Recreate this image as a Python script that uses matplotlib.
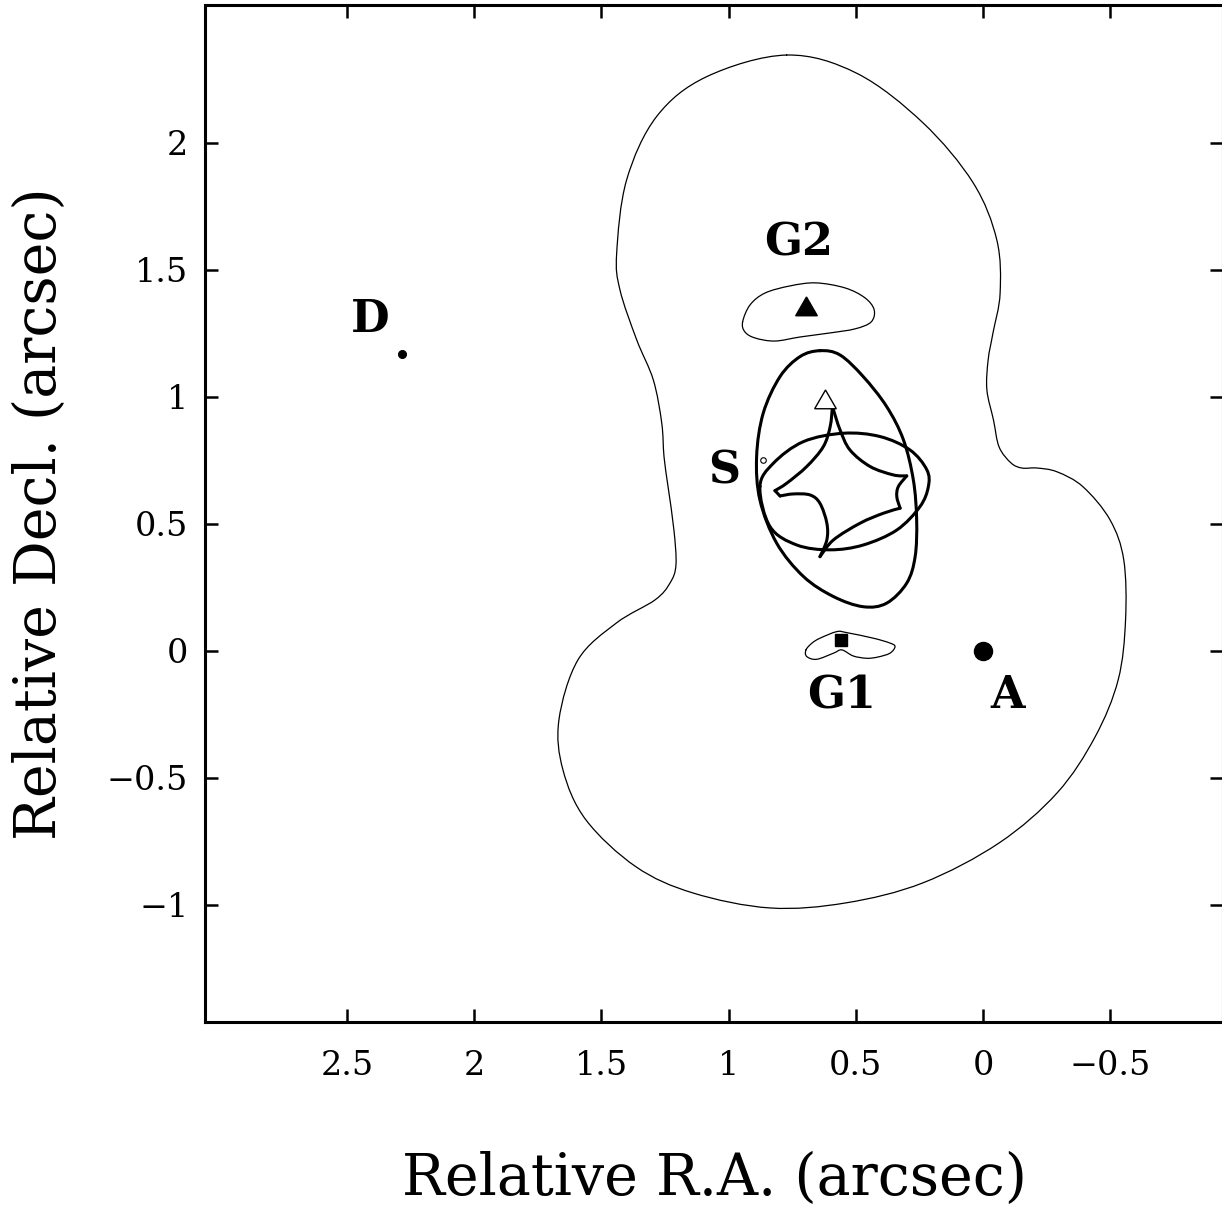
import numpy as np
import matplotlib
matplotlib.use("Agg")
import matplotlib.pyplot as plt
from matplotlib.path import Path
from matplotlib.patches import PathPatch

# outer critical line (thin)
outer_x = [0.772, 1.086, 1.283, 1.401, 1.440, 1.427, 1.361, 1.296, 1.263, 1.254,
           1.238, 1.215, 1.207, 1.230, 1.289, 1.441, 1.592, 1.667, 1.651, 1.561,
           1.364, 1.140, 0.837, 0.539, 0.236, -0.063, -0.291, -0.440, -0.531, -0.560,
           -0.553, -0.499, -0.393, -0.291, -0.212, -0.153, -0.110, -0.063, -0.041, -0.015,
           -0.020, -0.039, -0.067, -0.054, 0.039, 0.236, 0.496]
outer_y = [2.346, 2.261, 2.104, 1.854, 1.566, 1.421, 1.224, 1.067, 0.898, 0.765,
           0.646, 0.476, 0.339, 0.268, 0.201, 0.110, -0.035, -0.272, -0.469, -0.665,
           -0.850, -0.953, -1.012, -0.992, -0.913, -0.756, -0.559, -0.339, -0.114, 0.122,
           0.358, 0.516, 0.646, 0.705, 0.720, 0.720, 0.740, 0.803, 0.909, 1.028,
           1.146, 1.252, 1.409, 1.618, 1.843, 2.079, 2.274]

# small critical line around G2
g2c_x = [0.945, 0.916, 0.857, 0.759, 0.657, 0.542, 0.464, 0.428, 0.440, 0.503,
         0.601, 0.719, 0.818, 0.896, 0.936]
g2c_y = [1.295, 1.362, 1.409, 1.437, 1.449, 1.429, 1.390, 1.343, 1.295, 1.268,
         1.252, 1.236, 1.220, 1.232, 1.256]

# small critical line around G1
g1c_x = [0.696, 0.672, 0.641, 0.575, 0.536, 0.431, 0.366, 0.346, 0.366, 0.413,
         0.457, 0.510, 0.555, 0.588, 0.654, 0.693]
g1c_y = [0.004, 0.031, 0.050, 0.076, 0.072, 0.050, 0.031, 0.017, -0.009, -0.024,
         -0.029, -0.020, 0.004, -0.009, -0.033, -0.022]

# inner critical line (thick, tall)
crit_x = [0.641, 0.562, 0.471, 0.379, 0.313, 0.274, 0.261, 0.267, 0.300, 0.379,
          0.471, 0.588, 0.706, 0.811, 0.877, 0.890, 0.864, 0.798, 0.719]
crit_y = [1.182, 1.165, 1.080, 0.962, 0.831, 0.673, 0.516, 0.371, 0.267, 0.188,
          0.174, 0.214, 0.293, 0.424, 0.594, 0.765, 0.936, 1.080, 1.159]

# caustic (thick, wide oval)
caus_x = [0.877, 0.824, 0.706, 0.549, 0.405, 0.287, 0.221, 0.215, 0.248, 0.339,
          0.471, 0.601, 0.732, 0.837]
caus_y = [0.647, 0.739, 0.824, 0.857, 0.844, 0.791, 0.713, 0.647, 0.568, 0.476,
          0.417, 0.398, 0.417, 0.489]

# astroid caustic, split into arcs at the cusps
ast_x = [0.592, 0.601, 0.628, 0.693, 0.772, 0.818, 0.798, 0.746, 0.680, 0.641,
         0.614, 0.614, 0.641, 0.588, 0.483, 0.392, 0.326, 0.339, 0.333, 0.300,
         0.353, 0.444, 0.523, 0.562, 0.588, 0.592]
ast_y = [0.962, 0.883, 0.804, 0.726, 0.660, 0.631, 0.610, 0.618, 0.614, 0.581,
         0.503, 0.437, 0.371, 0.437, 0.503, 0.542, 0.562, 0.607, 0.647, 0.689,
         0.693, 0.726, 0.791, 0.870, 0.949, 0.962]
ast_cusps = [0, 5, 6, 12, 16, 19, 25]

# objects
pos_A = (0.0, 0.0)
pos_D = (2.284, 1.169)
pos_G1 = (0.558, 0.043)
pos_G2 = (0.696, 1.346)
pos_src_tri = (0.621, 0.981)
pos_S = (0.864, 0.752)

labels = ['G2', 'G1', 'A', 'S', 'D']
label_x = [0.723, 0.558, -0.096, 1.018, 2.408]
label_y = [1.605, -0.176, -0.176, 0.707, 1.306]

xticks = [2.5, 2, 1.5, 1, 0.5, 0, -0.5]
yticks = [-1, -0.5, 0, 0.5, 1, 1.5, 2]


def spline_path(xs, ys, closed=True):
    # Catmull-Rom through the traced points, drawn as cubic Bezier segments
    p = np.column_stack([xs, ys])
    n = len(p)
    verts = [p[0]]
    codes = [Path.MOVETO]
    nseg = n if closed else n - 1
    for i in range(nseg):
        p1, p2 = p[i], p[(i + 1) % n]
        if closed:
            p0, p3 = p[(i - 1) % n], p[(i + 2) % n]
        else:
            p0 = p[i - 1] if i > 0 else p1
            p3 = p[i + 2] if i + 2 < n else p2
        verts += [p1 + (p2 - p0) / 6, p2 - (p3 - p1) / 6, p2]
        codes += [Path.CURVE4] * 3
    return Path(verts, codes)


def draw(ax, path, lw):
    ax.add_patch(PathPatch(path, fill=False, edgecolor='black', lw=lw,
                           joinstyle='round', capstyle='round'))


fig = plt.figure(figsize=(12.22, 12.18), dpi=100)
ax = fig.add_axes([205 / 1222, 196 / 1218, 1018 / 1222, 1017.5 / 1218])

draw(ax, spline_path(outer_x, outer_y), 0.9)
draw(ax, spline_path(g2c_x, g2c_y), 0.9)
draw(ax, spline_path(g1c_x, g1c_y), 0.9)
draw(ax, spline_path(crit_x, crit_y), 2.2)
draw(ax, spline_path(caus_x, caus_y), 2.2)
for a, b in zip(ast_cusps[:-1], ast_cusps[1:]):
    draw(ax, spline_path(ast_x[a:b + 1], ast_y[a:b + 1], closed=False), 2.2)

ax.plot(*pos_A, 'o', color='black', ms=13)
ax.plot(*pos_D, 'o', color='black', ms=5.5)
ax.plot(*pos_G1, 's', color='black', ms=8.5)
ax.plot(*pos_G2, marker=(3, 0, 0), color='black', ms=18)
ax.plot(*pos_src_tri, marker=(3, 0, 0), mfc='white', mec='black', mew=1.0, ms=18)
ax.plot(*pos_S, 'o', mfc='white', mec='black', mew=0.8, ms=4)

for t, lx, ly in zip(labels, label_x, label_y):
    ax.text(lx, ly, t, ha='center', va='center', fontsize=32,
            family='DejaVu Serif', weight='bold')

ax.set_xlim(3.058, -0.943)
ax.set_ylim(-1.461, 2.545)
ax.set_xticks(xticks)
ax.set_yticks(yticks)
ax.set_xticklabels([f"{v:g}".replace('-', '\u2212') for v in xticks])
ax.set_yticklabels([f"{v:g}".replace('-', '\u2212') for v in yticks])
ax.tick_params(direction='in', length=9.5, width=1.8, top=True, right=True,
               labelsize=24)
ax.tick_params(axis='x', pad=20)
ax.tick_params(axis='y', pad=12)
for lab in ax.get_xticklabels() + ax.get_yticklabels():
    lab.set_family('DejaVu Serif')
for sp in ax.spines.values():
    sp.set_linewidth(2.2)

ax.set_xlabel('Relative R.A. (arcsec)', fontsize=41, family='DejaVu Serif', labelpad=50)
ax.set_ylabel('Relative Decl. (arcsec)', fontsize=41, family='DejaVu Serif', labelpad=28)

fig.savefig('out.png', dpi=100)
